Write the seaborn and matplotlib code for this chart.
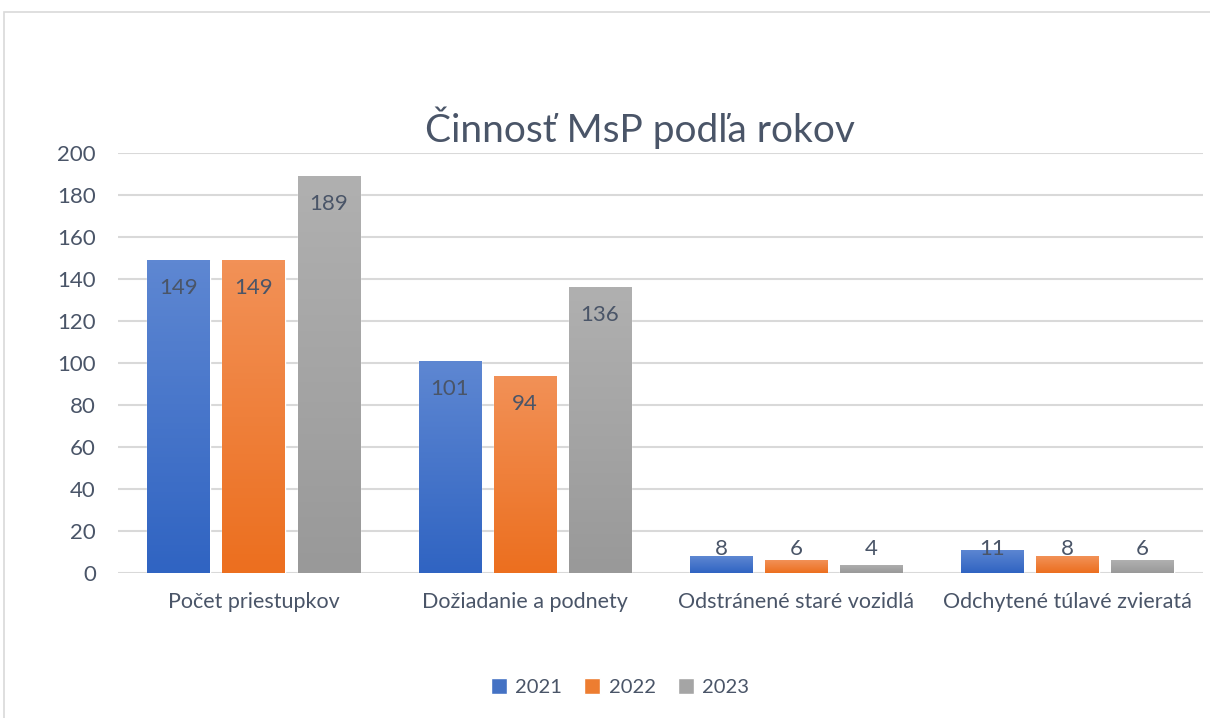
import numpy as np
import pandas as pd
import matplotlib
matplotlib.use("Agg")
import matplotlib.pyplot as plt
from matplotlib.patches import Rectangle, Patch
from matplotlib.colors import LinearSegmentedColormap
import seaborn as sns

# data
categories = ["Počet priestupkov", "Dožiadanie a podnety",
              "Odstránené staré vozidlá", "Odchytené túlavé zvieratá"]
years = ["2021", "2022", "2023"]
values_2021 = [149, 101, 8, 11]
values_2022 = [149, 94, 6, 8]
values_2023 = [189, 136, 4, 6]

# gradient colours (top, bottom) per year
grad = {
    "2021": ("#5E87D2", "#3064C2"),
    "2022": ("#F29157", "#EC6F1F"),
    "2023": ("#B0B0B0", "#999999"),
}
mid = {"2021": "#4472C4", "2022": "#ED7D31", "2023": "#A5A5A5"}
text_col = "#4A5568"

df = pd.DataFrame({
    "kategoria": categories * 3,
    "rok": [y for y in years for _ in categories],
    "pocet": values_2021 + values_2022 + values_2023,
})

sns.set_theme(style="white")
plt.rcParams["font.family"] = ["Lato", "DejaVu Sans"]

fig = plt.figure(figsize=(12.1, 7.18), dpi=100)
ax = fig.add_axes([118 / 1210, 1 - 573 / 718, (1203 - 118) / 1210, (573 - 153) / 718])

sns.barplot(data=df, x="kategoria", y="pocet", hue="rok", palette=mid,
            width=0.83, gap=0.17, saturation=1, legend=False, ax=ax)

ax.set_yticks(range(0, 201, 20))
ax.yaxis.grid(True, color="#D9D9D9", linewidth=1.5)
ax.set_axisbelow(True)
for s in ax.spines.values():
    s.set_visible(False)
ax.set_xlabel("")
ax.set_ylabel("")
ax.tick_params(axis="both", length=0, colors=text_col)
ax.tick_params(axis="x", pad=14, labelsize=15.5)
ax.tick_params(axis="y", pad=16, labelsize=16)

# gradient fill + labels
for cont, yr in zip(ax.containers, years):
    cmap = LinearSegmentedColormap.from_list(yr, [grad[yr][1], grad[yr][0]])
    for p in cont.patches:
        x0, w, h = p.get_x(), p.get_width(), p.get_height()
        im = ax.imshow(np.linspace(0, 1, 100).reshape(-1, 1), cmap=cmap,
                       origin="lower", aspect="auto",
                       extent=(x0, x0 + w, 0, h), zorder=p.get_zorder() + 0.1)
        im.set_clip_path(p)
        ly = max(h - 13.3, 11.4)
        ax.text(x0 + w / 2, ly, f"{int(h)}", ha="center", va="center",
                fontsize=16, color=text_col, zorder=5)
ax.set_xlim(-0.5, 3.5)
ax.set_ylim(0, 200)

fig.text(640 / 1210, 1 - 128 / 718, "Činnosť MsP podľa rokov",
         ha="center", va="center", fontsize=28, color=text_col)

handles = [Patch(facecolor=mid[y], label=y) for y in years]
fig.legend(handles=handles, loc="center", bbox_to_anchor=(620 / 1210, 1 - 687 / 718),
           ncol=3, frameon=False, fontsize=14.5, handlelength=0.8, handleheight=0.8,
           handletextpad=0.4, columnspacing=1.1, labelcolor=text_col)

# outer chart border
fig.patches.append(Rectangle((4 / 1210, -0.01), 1.1, 1 - 12 / 718 + 0.01,
                             transform=fig.transFigure, fill=False,
                             edgecolor="#D9D9D9", linewidth=1.2))

fig.savefig("out.png", dpi=100)
